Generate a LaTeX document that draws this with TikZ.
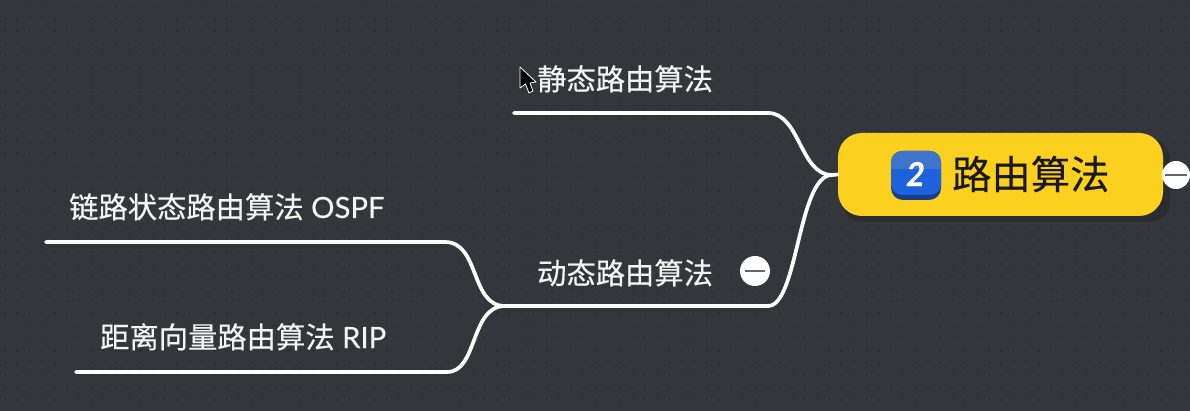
\documentclass[tikz,border=0pt]{standalone}
\usepackage{fontspec}
\setmainfont[FakeBold=0.25]{Lato}
\newfontfamily\cjk[FakeBold=0.4]{Noto Sans CJK SC}
\definecolor{bgc}{HTML}{33363A}
\definecolor{dotc}{HTML}{2E3135}
\definecolor{yel}{HTML}{FCD01F}
\definecolor{shad}{HTML}{2A2C2F}
\definecolor{blu}{HTML}{1C62DC}
\definecolor{bluh}{HTML}{3E74CE}
\definecolor{blud}{HTML}{1A3F86}
\definecolor{txt}{HTML}{F4F4F4}
\tikzset{
 lbl/.style={text=txt,inner sep=0pt,anchor=base west,font=\fontsize{29.3}{29.3}\selectfont},
 branch/.style={draw=white,line width=3.7pt,line cap=round},
 minus/.style={circle,fill=white,minimum size=30pt,inner sep=0pt},
 minusbar/.style={draw=gray!80!black,line width=2.4pt},
 dotrow/.style={draw=dotc,line width=2.5pt,dash pattern=on 2.5pt off 9.8pt},
}
\begin{document}
\begin{tikzpicture}[x=1pt,y=-1pt]
\useasboundingbox (0,0) rectangle (1190,411);
\fill[bgc] (0,0) rectangle (1190,411);
\foreach \j in {0,...,33}{\draw[dotrow] (4,\j*12.3+6) -- (1190,\j*12.3+6);}
% central topic
\fill[shad,rounded corners=20pt] (842,139) rectangle (1170,222);
\node[fill=yel,rounded corners=24pt,minimum width=325pt,minimum height=83pt,inner sep=0pt] (root) at (1000.5,174.5) {};
\node[anchor=base west,inner sep=0pt,font=\cjk\fontsize{39.3}{39.3}\selectfont,text=black!90] (rootlbl) at (952,189) {路由算法};
% badge
\fill[blud,rounded corners=12pt] (891,151) rectangle (941,200);
\fill[blu,rounded corners=11pt] (891,151) rectangle (941,195);
\begin{scope}
\clip[rounded corners=11pt] (891,151) rectangle (941,195);
\fill[bluh] (891,151) rectangle (941,169);
\end{scope}
\node[text=white,font=\bfseries\itshape\fontsize{33}{33}\selectfont,inner sep=0pt] (badge) at (915.5,174) {2};
% collapse on root
\node[minus,minimum size=28pt] (rootminus) at (1176,175) {};
\draw[minusbar] (rootminus.west) ++(3,0) -- ++(22,0);
% coordinates
\coordinate (hub) at (832,175);
\coordinate (s0) at (514,113);
\coordinate (s1) at (768,113);
\coordinate (d0) at (505,306);
\coordinate (d1) at (768,306);
\coordinate (o0) at (46,242);
\coordinate (o1) at (445,242);
\coordinate (r0) at (76,372);
\coordinate (r1) at (447,372);
\draw[branch] (s0) -- (s1) .. controls (800,113) and (800,175) .. (hub);
\draw[branch] (d0) -- (d1) .. controls (798,306) and (798,175) .. (hub) -- (root.west);
\draw[branch] (o0) -- (o1) .. controls (480,242) and (470,306) .. (d0);
\draw[branch] (r0) -- (r1) .. controls (478,372) and (470,306) .. (d0);
% labels
\node[lbl] (st) at (537,90) {\cjk 静态路由算法};
\node[lbl] (dy) at (537,284) {\cjk 动态路由算法};
\node[lbl] (os) at (69,218) {{\cjk 链路状态路由算法} OSPF};
\node[lbl] (ri) at (100,348) {{\cjk 距离向量路由算法} RIP};
% collapse on branch
\node[minus] (dm) at (755,271) {};
\draw[minusbar] (dm.west) ++(5,0) -- ++(20,0);
% cursor
\draw[white,line width=.8pt,fill=black,line join=round] (520,67) -- (520,88) -- (525.5,84) -- (529,93) -- (533,91) -- (530,83) -- (536,82) -- cycle;
\end{tikzpicture}
\end{document}
